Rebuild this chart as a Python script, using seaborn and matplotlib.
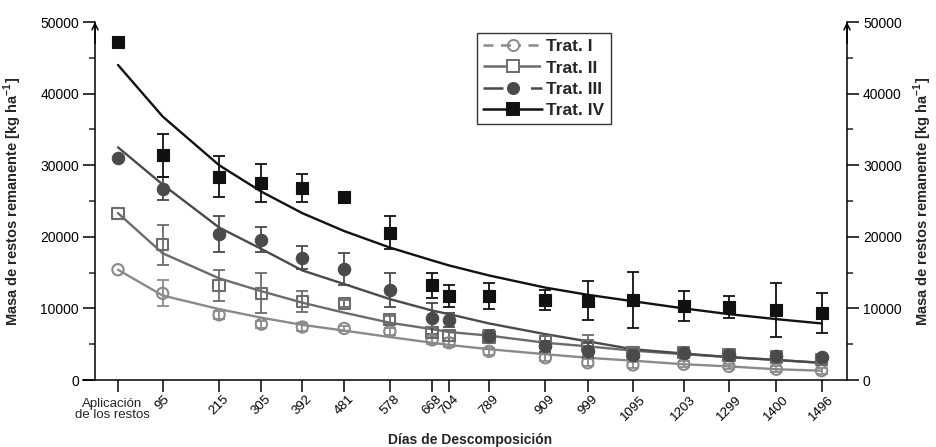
import numpy as np
import pandas as pd
import matplotlib
matplotlib.use("Agg")
import matplotlib.pyplot as plt
import seaborn as sns
from matplotlib.lines import Line2D
from matplotlib.ticker import MultipleLocator

# Sampling days (0 = residue application)
days = [0, 95, 215, 305, 392, 481, 578, 668, 704, 789, 909, 999, 1095, 1203, 1299, 1400, 1496]
day_labels = ["", "95", "215", "305", "392", "481", "578", "668", "704", "789",
              "909", "999", "1095", "1203", "1299", "1400", "1496"]
treatments = ["Trat. I", "Trat. II", "Trat. III", "Trat. IV"]

# Remaining residue mass [kg ha-1], mean and error per sampling day
mass_t1 = [15400, 12100, 9100, 7800, 7400, 7200, 6800, 5600, 5200, 4000, 3100, 2400, 2100, 2200, 1900, 1500, 1300]
err_t1 = [0, 1800, 600, 500, 500, 300, 500, 600, 600, 500, 500, 500, 400, 400, 400, 400, 400]
mass_t2 = [23300, 18900, 13200, 12100, 11000, 10700, 8400, 6600, 6200, 6000, 5300, 4800, 3800, 3800, 3500, 3200, 2900]
err_t2 = [0, 2800, 2200, 2800, 1500, 500, 600, 700, 700, 700, 800, 1500, 600, 500, 500, 500, 500]
mass_t3 = [31000, 26700, 20400, 19600, 17100, 15500, 12600, 8600, 8400, 6200, 4700, 4100, 3500, 3800, 3500, 3400, 3200]
err_t3 = [0, 1600, 2500, 1700, 1600, 2200, 2400, 2200, 1000, 800, 800, 1000, 600, 500, 500, 500, 500]
mass_t4 = [47200, 31400, 28400, 27500, 26800, 25500, 20600, 13200, 11700, 11700, 11200, 11100, 11200, 10300, 10200, 9800, 9300]
err_t4 = [0, 3000, 2900, 2600, 2000, 500, 2300, 1700, 1500, 1800, 1400, 2700, 3900, 2100, 1500, 3800, 2800]

# Fitted decomposition curves evaluated at the sampling days
fit_t1 = [15400, 11800, 9900, 8700, 7700, 6900, 6000, 5200, 4900, 4300, 3600, 3100, 2700, 2200, 1900, 1500, 1300]
fit_t2 = [23300, 17700, 14200, 12400, 10800, 9400, 8000, 7100, 6700, 6200, 5200, 4700, 4100, 3600, 3200, 2800, 2400]
fit_t3 = [32500, 27300, 21300, 18300, 15300, 13400, 11300, 9700, 9200, 7900, 6400, 5400, 4300, 3700, 3200, 2800, 2400]
fit_t4 = [44000, 36800, 30000, 26300, 23300, 20800, 18500, 16700, 16000, 14600, 12900, 11900, 11000, 10000, 9200, 8500, 7900]

sns.set_theme(style="ticks")
plt.rcParams["font.family"] = ["Liberation Sans", "DejaVu Sans"]
plt.rcParams["mathtext.fontset"] = "custom"
plt.rcParams["mathtext.rm"] = "Liberation Sans"
plt.rcParams["mathtext.bf"] = "Liberation Sans:bold"

means = [mass_t1, mass_t2, mass_t3, mass_t4]
errs = [err_t1, err_t2, err_t3, err_t4]
fits = [fit_t1, fit_t2, fit_t3, fit_t4]

obs = pd.DataFrame({
    "dia": np.tile(days, 4),
    "masa": np.concatenate(means),
    "err": np.concatenate(errs),
    "trat": np.repeat(treatments, len(days)),
})
curves = pd.DataFrame({
    "dia": np.tile(days, 4),
    "masa": np.concatenate(fits),
    "trat": np.repeat(treatments, len(days)),
})

colors = {"Trat. I": "#8a8a8a", "Trat. II": "#6c6c6c", "Trat. III": "#4a4a4a", "Trat. IV": "#111111"}
markers = {"Trat. I": "o", "Trat. II": "s", "Trat. III": "o", "Trat. IV": "s"}
filled = {"Trat. I": False, "Trat. II": False, "Trat. III": True, "Trat. IV": True}
legend_ls = {"Trat. I": (0, (4, 3, 4, 3, 1, 3)), "Trat. II": (0, (9, 5)),
             "Trat. III": (0, (8, 5, 1, 5)), "Trat. IV": "-"}

fig = plt.figure(figsize=(9.36, 4.47), dpi=100)
fig.patch.set_facecolor("white")
ax = fig.add_axes([83 / 936, 67 / 447, 764 / 936, 358 / 447])
ax.set_facecolor("white")

# fitted curves
for t in treatments:
    sns.lineplot(data=curves[curves.trat == t], x="dia", y="masa", color=colors[t],
                 lw=1.7, ax=ax, legend=False, zorder=2, sort=False)

# error bars and observed means
for t in treatments:
    d = obs[(obs.trat == t) & (obs.err > 0)]
    ax.errorbar(d.dia, d.masa, yerr=d.err, fmt="none", ecolor=colors[t],
                elinewidth=1.3, capsize=4.5, capthick=1.3, zorder=3)
    d_all = obs[obs.trat == t]
    if filled[t]:
        sns.scatterplot(data=d_all, x="dia", y="masa", marker=markers[t], s=80,
                        color=colors[t], edgecolor=colors[t], linewidth=0.8,
                        ax=ax, legend=False, zorder=4)
    else:
        sns.scatterplot(data=d_all, x="dia", y="masa", marker=markers[t], s=66,
                        facecolors="none", edgecolor=colors[t], linewidth=1.5,
                        ax=ax, legend=False, zorder=4)

ax.set_xlim(-74.4, 1550.2)
ax.set_ylim(0, 50000)

for s in ["left", "right", "bottom"]:
    ax.spines[s].set_linewidth(1.1)
    ax.spines[s].set_color("black")
ax.spines["top"].set_visible(False)
ax.spines["left"].set_position(("data", -48.9))

ax.yaxis.set_major_locator(MultipleLocator(10000))
ax.yaxis.set_minor_locator(MultipleLocator(5000))
ax.tick_params(axis="y", which="major", length=8.5, width=1.1, direction="out",
               left=True, right=True, labelleft=True, labelright=True,
               labelsize=10, pad=3, colors="black")
ax.tick_params(axis="y", which="minor", length=4.5, width=1.1, direction="out",
               left=True, right=True)
ax.set_xticks(days)
ax.set_xticklabels(day_labels, rotation=45, ha="center", fontsize=9.5)
ax.tick_params(axis="x", which="major", length=8.5, width=1.1, direction="out",
               pad=1, colors="black")
ax.set_yticklabels([f"{int(v)}" for v in ax.get_yticks()])

ax.annotate("Aplicación\nde los restos", xy=(0, 0), xycoords=("data", "axes fraction"),
            xytext=(-4, -13), textcoords="offset points", ha="center", va="top",
            fontsize=9.5, linespacing=0.85)

# arrow heads on both value axes
for xpos in (-48.9, 1550.2):
    ax.annotate("", xy=(xpos, 50000), xytext=(xpos, 47000),
                xycoords="data", annotation_clip=False,
                arrowprops=dict(arrowstyle="->", lw=1.1, color="black",
                                mutation_scale=11, shrinkA=0, shrinkB=0))

ylab = r"Masa de restos remanente [kg ha$^{\mathbf{-1}}$]"
ax.set_ylabel(ylab, fontsize=10.5, fontweight="bold")
ax.yaxis.set_label_coords(-0.077, 0.5)
fig.text(923 / 936, 1 - 201 / 447, ylab, rotation=90, ha="center", va="center",
         fontsize=10.5, fontweight="bold")
ax.set_xlabel("Días de Descomposición", fontsize=10, fontweight="bold")
ax.xaxis.set_label_coords(0.5065, -0.148)

handles = []
for t in treatments:
    handles.append(Line2D([0], [0], color=colors[t], lw=1.8, ls=legend_ls[t],
                          marker=markers[t], markersize=8,
                          markerfacecolor=colors[t] if filled[t] else "none",
                          markeredgecolor=colors[t], markeredgewidth=1.4))
leg = ax.legend(handles, treatments, loc="upper left", bbox_to_anchor=(0.5157, 0.969),
                prop={"family": ["Liberation Sans Narrow", "Liberation Sans"],
                      "weight": "bold", "size": 12.5},
                handlelength=3.4, handletextpad=0.25, labelspacing=0.35,
                borderpad=0.35, borderaxespad=0, frameon=True, fancybox=False)
leg.get_frame().set_edgecolor("black")
leg.get_frame().set_linewidth(1.0)

fig.savefig("out.png", dpi=100, facecolor="white")
